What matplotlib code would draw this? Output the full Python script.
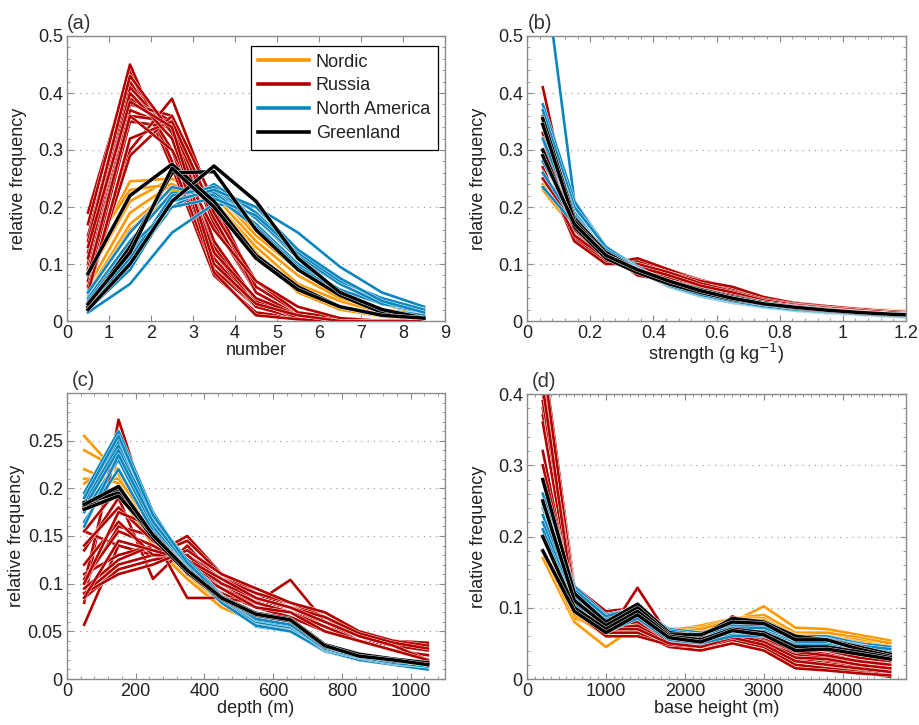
import matplotlib
matplotlib.use('Agg')
import matplotlib.pyplot as plt
import matplotlib.patheffects as pe
from matplotlib.ticker import MultipleLocator, FuncFormatter
from matplotlib.lines import Line2D

plt.rcParams['font.family'] = ['Liberation Sans', 'DejaVu Sans']

# ---------------- data ----------------
group_names = ['Nordic', 'Russia', 'North America', 'Greenland']

# (a) number
a_x = [0.5, 1.5, 2.5, 3.5, 4.5, 5.5, 6.5, 7.5, 8.5]
a_nordic = [
    [0.10, 0.245, 0.25, 0.20, 0.12, 0.05, 0.025, 0.008, 0.002],
    [0.08, 0.21, 0.25, 0.21, 0.13, 0.065, 0.035, 0.015, 0.005],
    [0.06, 0.19, 0.24, 0.22, 0.14, 0.08, 0.04, 0.02, 0.01],
    [0.05, 0.17, 0.23, 0.23, 0.15, 0.09, 0.05, 0.02, 0.01],
    [0.12, 0.23, 0.24, 0.21, 0.12, 0.05, 0.02, 0.008, 0.002],
    [0.045, 0.16, 0.22, 0.225, 0.16, 0.095, 0.055, 0.03, 0.01],
]
a_russia = [
    [0.19, 0.44, 0.27, 0.08, 0.015, 0.005, 0, 0, 0],
    [0.17, 0.45, 0.28, 0.09, 0.025, 0.005, 0, 0, 0],
    [0.15, 0.42, 0.30, 0.10, 0.025, 0.005, 0, 0, 0],
    [0.12, 0.41, 0.33, 0.11, 0.025, 0.005, 0, 0, 0],
    [0.10, 0.39, 0.35, 0.12, 0.03, 0.01, 0, 0, 0],
    [0.09, 0.38, 0.36, 0.13, 0.035, 0.005, 0, 0, 0],
    [0.08, 0.37, 0.34, 0.14, 0.035, 0.005, 0, 0, 0],
    [0.06, 0.36, 0.35, 0.17, 0.05, 0.01, 0, 0, 0],
    [0.07, 0.35, 0.34, 0.18, 0.05, 0.01, 0, 0, 0],
    [0.05, 0.30, 0.39, 0.20, 0.05, 0.01, 0, 0, 0],
    [0.06, 0.29, 0.36, 0.21, 0.06, 0.015, 0.005, 0, 0],
    [0.05, 0.32, 0.35, 0.19, 0.07, 0.015, 0.005, 0, 0],
    [0.08, 0.36, 0.30, 0.16, 0.07, 0.025, 0.005, 0, 0],
    [0.14, 0.43, 0.33, 0.085, 0.01, 0.003, 0, 0, 0],
    [0.11, 0.40, 0.32, 0.12, 0.04, 0.01, 0, 0, 0],
    [0.13, 0.385, 0.34, 0.10, 0.03, 0.01, 0, 0, 0],
]
a_namerica = [
    [0.015, 0.065, 0.155, 0.205, 0.20, 0.155, 0.095, 0.05, 0.025],
    [0.02, 0.10, 0.20, 0.24, 0.19, 0.12, 0.07, 0.04, 0.02],
    [0.03, 0.12, 0.21, 0.23, 0.18, 0.11, 0.065, 0.035, 0.02],
    [0.04, 0.14, 0.225, 0.225, 0.17, 0.10, 0.055, 0.03, 0.015],
    [0.05, 0.155, 0.235, 0.22, 0.165, 0.095, 0.05, 0.02, 0.01],
    [0.025, 0.11, 0.22, 0.235, 0.18, 0.115, 0.065, 0.03, 0.02],
    [0.035, 0.13, 0.20, 0.215, 0.185, 0.12, 0.07, 0.04, 0.02],
    [0.02, 0.09, 0.21, 0.23, 0.20, 0.125, 0.075, 0.035, 0.015],
]
a_greenland = [
    [0.083, 0.22, 0.275, 0.21, 0.115, 0.06, 0.025, 0.01, 0.005],
    [0.025, 0.13, 0.26, 0.262, 0.16, 0.09, 0.045, 0.015, 0.005],
    [0.02, 0.10, 0.21, 0.272, 0.21, 0.11, 0.05, 0.02, 0.005],
    [0.03, 0.12, 0.268, 0.20, 0.11, 0.055, 0.025, 0.01, 0.005],
]

# (b) strength
b_x = [0.05, 0.15, 0.25, 0.35, 0.45, 0.55, 0.65, 0.75, 0.85, 0.95, 1.05, 1.15, 1.25]
b_nordic = [
    [0.23, 0.16, 0.11, 0.09, 0.07, 0.055, 0.045, 0.035, 0.028, 0.024, 0.021, 0.019, 0.017],
    [0.24, 0.17, 0.115, 0.09, 0.072, 0.057, 0.046, 0.036, 0.029, 0.025, 0.022, 0.019, 0.017],
    [0.25, 0.165, 0.11, 0.088, 0.07, 0.055, 0.044, 0.034, 0.028, 0.024, 0.021, 0.018, 0.016],
    [0.26, 0.17, 0.12, 0.09, 0.07, 0.054, 0.043, 0.033, 0.027, 0.023, 0.02, 0.018, 0.016],
    [0.28, 0.175, 0.115, 0.088, 0.068, 0.052, 0.042, 0.032, 0.026, 0.022, 0.019, 0.017, 0.015],
]
b_russia = [
    [0.41, 0.16, 0.115, 0.10, 0.085, 0.07, 0.055, 0.04, 0.03, 0.025, 0.02, 0.016, 0.013],
    [0.36, 0.15, 0.11, 0.105, 0.09, 0.072, 0.058, 0.04, 0.032, 0.026, 0.021, 0.017, 0.014],
    [0.35, 0.16, 0.105, 0.095, 0.08, 0.065, 0.05, 0.035, 0.028, 0.022, 0.018, 0.015, 0.012],
    [0.33, 0.14, 0.10, 0.11, 0.09, 0.07, 0.055, 0.04, 0.03, 0.025, 0.02, 0.016, 0.013],
    [0.32, 0.15, 0.11, 0.10, 0.085, 0.07, 0.06, 0.042, 0.031, 0.026, 0.021, 0.017, 0.014],
    [0.30, 0.145, 0.105, 0.09, 0.075, 0.06, 0.048, 0.035, 0.027, 0.022, 0.018, 0.014, 0.011],
    [0.29, 0.16, 0.115, 0.085, 0.07, 0.058, 0.045, 0.034, 0.026, 0.021, 0.017, 0.013, 0.011],
    [0.27, 0.14, 0.10, 0.10, 0.085, 0.066, 0.052, 0.038, 0.029, 0.024, 0.019, 0.015, 0.012],
    [0.26, 0.15, 0.11, 0.095, 0.08, 0.062, 0.05, 0.036, 0.028, 0.023, 0.019, 0.015, 0.012],
    [0.25, 0.17, 0.12, 0.08, 0.07, 0.055, 0.045, 0.033, 0.026, 0.021, 0.017, 0.013, 0.011],
]
b_namerica = [
    [0.64, 0.21, 0.13, 0.095, 0.065, 0.045, 0.035, 0.025, 0.02, 0.015, 0.012, 0.008, 0.006],
    [0.38, 0.21, 0.125, 0.09, 0.062, 0.045, 0.033, 0.025, 0.019, 0.015, 0.012, 0.009, 0.007],
    [0.37, 0.20, 0.13, 0.092, 0.064, 0.046, 0.034, 0.026, 0.02, 0.016, 0.013, 0.01, 0.008],
    [0.35, 0.19, 0.12, 0.09, 0.06, 0.043, 0.032, 0.024, 0.018, 0.014, 0.011, 0.008, 0.006],
    [0.32, 0.185, 0.12, 0.088, 0.06, 0.044, 0.033, 0.025, 0.019, 0.015, 0.012, 0.009, 0.007],
    [0.28, 0.18, 0.125, 0.092, 0.063, 0.046, 0.035, 0.026, 0.02, 0.016, 0.013, 0.01, 0.008],
    [0.26, 0.175, 0.115, 0.088, 0.061, 0.045, 0.034, 0.025, 0.019, 0.015, 0.012, 0.009, 0.007],
    [0.235, 0.17, 0.12, 0.09, 0.062, 0.046, 0.035, 0.026, 0.02, 0.016, 0.012, 0.009, 0.007],
]
b_greenland = [
    [0.355, 0.18, 0.12, 0.09, 0.07, 0.055, 0.042, 0.032, 0.025, 0.02, 0.015, 0.012, 0.01],
    [0.345, 0.175, 0.115, 0.09, 0.068, 0.052, 0.04, 0.03, 0.024, 0.019, 0.015, 0.012, 0.01],
    [0.30, 0.165, 0.11, 0.085, 0.065, 0.05, 0.038, 0.03, 0.023, 0.018, 0.014, 0.011, 0.009],
    [0.29, 0.17, 0.115, 0.09, 0.07, 0.053, 0.04, 0.03, 0.024, 0.019, 0.015, 0.012, 0.01],
]

# (c) depth
c_x = [50, 150, 250, 350, 450, 550, 650, 750, 850, 950, 1050]
c_nordic = [
    [0.255, 0.215, 0.15, 0.11, 0.08, 0.065, 0.055, 0.032, 0.023, 0.018, 0.014],
    [0.24, 0.22, 0.155, 0.11, 0.078, 0.062, 0.053, 0.031, 0.022, 0.017, 0.013],
    [0.22, 0.205, 0.145, 0.105, 0.075, 0.06, 0.052, 0.03, 0.021, 0.017, 0.013],
    [0.21, 0.21, 0.16, 0.115, 0.08, 0.065, 0.055, 0.032, 0.023, 0.018, 0.014],
    [0.195, 0.195, 0.14, 0.105, 0.075, 0.06, 0.05, 0.03, 0.02, 0.016, 0.012],
    [0.205, 0.23, 0.16, 0.11, 0.08, 0.062, 0.055, 0.031, 0.022, 0.017, 0.013],
]
c_russia = [
    [0.057, 0.14, 0.13, 0.12, 0.10, 0.08, 0.075, 0.06, 0.045, 0.035, 0.03],
    [0.08, 0.272, 0.16, 0.11, 0.09, 0.075, 0.065, 0.05, 0.04, 0.03, 0.025],
    [0.10, 0.25, 0.15, 0.12, 0.095, 0.08, 0.07, 0.055, 0.04, 0.035, 0.03],
    [0.155, 0.14, 0.13, 0.15, 0.11, 0.09, 0.08, 0.065, 0.045, 0.035, 0.03],
    [0.135, 0.19, 0.105, 0.14, 0.10, 0.085, 0.075, 0.06, 0.045, 0.04, 0.035],
    [0.09, 0.12, 0.13, 0.145, 0.11, 0.09, 0.075, 0.07, 0.05, 0.04, 0.035],
    [0.085, 0.115, 0.125, 0.13, 0.105, 0.095, 0.08, 0.065, 0.045, 0.04, 0.038],
    [0.10, 0.16, 0.15, 0.085, 0.085, 0.08, 0.104, 0.06, 0.045, 0.035, 0.03],
    [0.11, 0.13, 0.14, 0.12, 0.10, 0.08, 0.07, 0.06, 0.04, 0.03, 0.025],
    [0.095, 0.125, 0.14, 0.125, 0.105, 0.09, 0.08, 0.065, 0.045, 0.035, 0.03],
    [0.105, 0.155, 0.14, 0.12, 0.095, 0.08, 0.07, 0.055, 0.04, 0.03, 0.025],
    [0.14, 0.18, 0.145, 0.12, 0.10, 0.08, 0.07, 0.055, 0.04, 0.03, 0.025],
    [0.09, 0.11, 0.12, 0.135, 0.11, 0.095, 0.08, 0.07, 0.05, 0.04, 0.035],
    [0.12, 0.165, 0.13, 0.13, 0.10, 0.085, 0.075, 0.06, 0.045, 0.035, 0.03],
    [0.085, 0.145, 0.135, 0.125, 0.10, 0.085, 0.075, 0.065, 0.048, 0.038, 0.032],
    [0.10, 0.175, 0.16, 0.125, 0.105, 0.085, 0.075, 0.06, 0.045, 0.035, 0.02],
    [0.155, 0.20, 0.155, 0.115, 0.095, 0.075, 0.07, 0.05, 0.04, 0.03, 0.02],
]
c_namerica = [
    [0.195, 0.26, 0.175, 0.12, 0.085, 0.06, 0.055, 0.03, 0.022, 0.016, 0.012],
    [0.19, 0.25, 0.17, 0.125, 0.088, 0.065, 0.058, 0.032, 0.023, 0.017, 0.014],
    [0.185, 0.245, 0.165, 0.12, 0.085, 0.058, 0.052, 0.03, 0.021, 0.015, 0.010],
    [0.18, 0.24, 0.17, 0.118, 0.085, 0.055, 0.05, 0.029, 0.02, 0.015, 0.011],
    [0.175, 0.23, 0.16, 0.115, 0.082, 0.06, 0.054, 0.031, 0.022, 0.016, 0.012],
    [0.165, 0.22, 0.155, 0.115, 0.08, 0.056, 0.05, 0.03, 0.02, 0.015, 0.010],
    [0.16, 0.235, 0.165, 0.12, 0.085, 0.062, 0.056, 0.031, 0.022, 0.016, 0.013],
    [0.19, 0.255, 0.172, 0.122, 0.087, 0.063, 0.057, 0.032, 0.023, 0.017, 0.013],
]
c_greenland = [
    [0.18, 0.20, 0.15, 0.113, 0.085, 0.068, 0.062, 0.035, 0.025, 0.02, 0.015],
    [0.185, 0.195, 0.148, 0.112, 0.084, 0.067, 0.061, 0.034, 0.025, 0.019, 0.016],
    [0.178, 0.192, 0.152, 0.115, 0.086, 0.069, 0.063, 0.036, 0.026, 0.021, 0.017],
    [0.183, 0.202, 0.151, 0.114, 0.085, 0.068, 0.062, 0.035, 0.024, 0.020, 0.015],
]

# (d) base height
d_x = [200, 600, 1000, 1400, 1800, 2200, 2600, 3000, 3400, 3800, 4200, 4600]
d_nordic = [
    [0.17, 0.08, 0.045, 0.075, 0.065, 0.07, 0.08, 0.102, 0.072, 0.07, 0.062, 0.054],
    [0.18, 0.085, 0.07, 0.085, 0.068, 0.075, 0.085, 0.09, 0.065, 0.065, 0.058, 0.05],
    [0.22, 0.095, 0.08, 0.09, 0.07, 0.072, 0.085, 0.085, 0.06, 0.06, 0.055, 0.045],
    [0.24, 0.10, 0.075, 0.08, 0.065, 0.068, 0.08, 0.08, 0.058, 0.058, 0.05, 0.04],
    [0.20, 0.09, 0.06, 0.08, 0.066, 0.07, 0.082, 0.083, 0.062, 0.06, 0.052, 0.046],
]
d_russia = [
    [0.46, 0.13, 0.09, 0.10, 0.06, 0.055, 0.07, 0.06, 0.04, 0.035, 0.025, 0.02],
    [0.44, 0.125, 0.085, 0.095, 0.055, 0.05, 0.065, 0.055, 0.035, 0.03, 0.022, 0.018],
    [0.42, 0.12, 0.08, 0.09, 0.055, 0.05, 0.06, 0.05, 0.03, 0.025, 0.02, 0.015],
    [0.40, 0.115, 0.09, 0.085, 0.05, 0.048, 0.06, 0.05, 0.028, 0.022, 0.016, 0.01],
    [0.38, 0.11, 0.075, 0.08, 0.05, 0.045, 0.055, 0.045, 0.025, 0.02, 0.012, 0.005],
    [0.37, 0.13, 0.095, 0.10, 0.065, 0.058, 0.075, 0.065, 0.045, 0.04, 0.03, 0.025],
    [0.36, 0.105, 0.07, 0.075, 0.05, 0.045, 0.055, 0.045, 0.02, 0.015, 0.01, 0.003],
    [0.32, 0.10, 0.06, 0.128, 0.06, 0.055, 0.06, 0.05, 0.035, 0.03, 0.025, 0.02],
    [0.30, 0.11, 0.065, 0.065, 0.045, 0.04, 0.05, 0.04, 0.015, 0.012, 0.008, 0.005],
    [0.26, 0.095, 0.06, 0.06, 0.048, 0.045, 0.088, 0.07, 0.05, 0.045, 0.035, 0.03],
    [0.45, 0.12, 0.08, 0.085, 0.052, 0.05, 0.062, 0.052, 0.03, 0.028, 0.02, 0.015],
    [0.39, 0.12, 0.085, 0.09, 0.058, 0.052, 0.068, 0.058, 0.038, 0.033, 0.025, 0.02],
    [0.41, 0.10, 0.07, 0.07, 0.05, 0.045, 0.058, 0.048, 0.025, 0.02, 0.015, 0.01],
]
d_namerica = [
    [0.26, 0.13, 0.09, 0.10, 0.07, 0.065, 0.075, 0.075, 0.06, 0.06, 0.05, 0.045],
    [0.25, 0.12, 0.085, 0.095, 0.065, 0.06, 0.07, 0.07, 0.055, 0.055, 0.048, 0.04],
    [0.24, 0.115, 0.08, 0.098, 0.062, 0.058, 0.068, 0.068, 0.052, 0.052, 0.045, 0.038],
    [0.23, 0.11, 0.075, 0.092, 0.06, 0.055, 0.065, 0.065, 0.05, 0.05, 0.042, 0.035],
    [0.22, 0.105, 0.07, 0.09, 0.058, 0.052, 0.062, 0.062, 0.048, 0.048, 0.04, 0.032],
    [0.21, 0.10, 0.065, 0.085, 0.055, 0.05, 0.06, 0.06, 0.045, 0.045, 0.038, 0.03],
    [0.245, 0.125, 0.088, 0.10, 0.068, 0.062, 0.072, 0.072, 0.057, 0.057, 0.047, 0.042],
]
d_greenland = [
    [0.28, 0.12, 0.08, 0.105, 0.065, 0.06, 0.085, 0.08, 0.06, 0.055, 0.045, 0.035],
    [0.25, 0.11, 0.075, 0.10, 0.062, 0.062, 0.08, 0.078, 0.055, 0.055, 0.042, 0.032],
    [0.20, 0.10, 0.07, 0.095, 0.06, 0.055, 0.07, 0.065, 0.045, 0.045, 0.038, 0.03],
    [0.18, 0.095, 0.065, 0.09, 0.058, 0.052, 0.068, 0.062, 0.04, 0.042, 0.035, 0.028],
]

# ---------------- style ----------------
C_NORDIC = '#FF9900'
C_RUSSIA = '#B20000'
C_NAMER = '#0B86BE'
C_GREEN = '#000000'
FS = 13
TXT = '#222222'
SPINE = '#8a8a8a'

fig = plt.figure(figsize=(9.2, 7.25), dpi=100)
W, H = 920.0, 725.0
ax_a = fig.add_axes([67 / W, 1 - 321 / H, 378 / W, 285 / H])
ax_b = fig.add_axes([527 / W, 1 - 321 / H, 379 / W, 285 / H])
ax_c = fig.add_axes([67 / W, 1 - 679 / H, 378 / W, 286 / H])
ax_d = fig.add_axes([527 / W, 1 - 679 / H, 379 / W, 285 / H])


def draw(ax, x, nordic, russia, namer, green):
    sets = [(nordic, C_NORDIC, 1.9), (russia, C_RUSSIA, 1.9),
            (namer, C_NAMER, 1.9), (green, C_GREEN, 2.5)]
    for lines, col, lw in sets:
        for y in lines:
            ax.plot(x, y, color=col, lw=lw, solid_joinstyle='round',
                    path_effects=[pe.Stroke(linewidth=lw + 0.6, foreground='white'),
                                  pe.Normal()], zorder=2)


fmt = FuncFormatter(lambda v, p: '%g' % round(v, 6))


def style(ax, xlim, ylim, xmaj, xmin, ymaj, ymin, xlabel, label, lab_dx, ylab_x):
    ax.set_xlim(*xlim)
    ax.set_ylim(*ylim)
    ax.xaxis.set_major_locator(MultipleLocator(xmaj))
    ax.yaxis.set_major_locator(MultipleLocator(ymaj))
    if xmin:
        ax.xaxis.set_minor_locator(MultipleLocator(xmin))
    ax.yaxis.set_minor_locator(MultipleLocator(ymin))
    ax.xaxis.set_major_formatter(fmt)
    ax.yaxis.set_major_formatter(fmt)
    ax.tick_params(which='both', direction='in', top=True, right=True,
                   color=SPINE, labelcolor=TXT, labelsize=FS)
    ax.tick_params(which='major', length=4.5, width=0.8, pad=3)
    ax.tick_params(which='minor', length=2.2, width=0.6)
    for s in ax.spines.values():
        s.set_color(SPINE)
        s.set_linewidth(1.0)
    ax.grid(axis='y', which='major', color='#a0a0a0', linestyle=(0, (1, 4)), lw=0.9)
    ax.set_axisbelow(True)
    ax.set_xlabel(xlabel, fontsize=FS, color=TXT, labelpad=0)
    ax.set_ylabel('relative frequency', fontsize=FS, color=TXT)
    ax.yaxis.set_label_coords(ylab_x, 0.5)
    ax.text(lab_dx, 1.045, label, transform=ax.transAxes, fontsize=14.5,
            color='#333333', ha='left', va='center')


draw(ax_a, a_x, a_nordic, a_russia, a_namerica, a_greenland)
draw(ax_b, b_x, b_nordic, b_russia, b_namerica, b_greenland)
draw(ax_c, c_x, c_nordic, c_russia, c_namerica, c_greenland)
draw(ax_d, d_x, d_nordic, d_russia, d_namerica, d_greenland)

style(ax_a, (0, 9), (0, 0.5), 1, None, 0.1, 0.02, 'number', '(a)', 0.0, -0.106)
style(ax_b, (0, 1.2), (0, 0.5), 0.2, 0.04, 0.1, 0.02,
      'strength (g kg$^{-1}$)', '(b)', 0.003, -0.106)
style(ax_c, (0, 1100), (0, 0.3), 200, 40, 0.05, 0.01, 'depth (m)', '(c)', 0.013, -0.111)
ax_c.set_yticks([0, 0.05, 0.1, 0.15, 0.2, 0.25])
style(ax_d, (0, 4800), (0, 0.4), 1000, 100, 0.1, 0.02, 'base height (m)', '(d)', 0.013, -0.106)

handles = [Line2D([], [], color=c, lw=2.6) for c in (C_NORDIC, C_RUSSIA, C_NAMER, C_GREEN)]
leg = ax_a.legend(handles, group_names, loc='upper right', bbox_to_anchor=(0.981, 0.965),
                  borderaxespad=0, fontsize=FS, handlelength=2.8, handletextpad=0.4,
                  labelspacing=0.38, borderpad=0.42, fancybox=False, framealpha=1,
                  edgecolor='black')
leg.get_frame().set_linewidth(0.9)
for t in leg.get_texts():
    t.set_color(TXT)

fig.savefig('out.png', dpi=100)
